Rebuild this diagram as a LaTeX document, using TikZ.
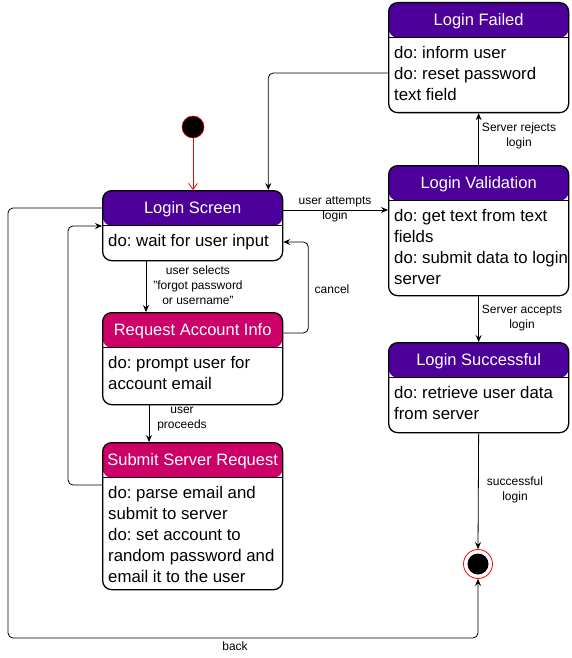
\documentclass[tikz,border=0pt]{standalone}
\usepackage{fontspec}
\setmainfont{Liberation Sans}
\usetikzlibrary{arrows.meta}
\definecolor{statepurple}{HTML}{4C0099}
\definecolor{statepink}{HTML}{CC0066}
\frenchspacing
\tikzset{
	state/.style={draw, line width=1.3pt, rounded corners=9pt, anchor=north west, inner sep=0, minimum width=180pt,
		path picture={\fill[#1] (path picture bounding box.north west) rectangle ([yshift=-35pt]path picture bounding box.north east);
			\draw[line width=1.3pt] ([yshift=-35pt]path picture bounding box.north west)--([yshift=-35pt]path picture bounding box.north east);}},
	title/.style={text=white, inner sep=0, font=\fontsize{16.5}{19}\selectfont},
	body/.style={anchor=north west, inner sep=0, align=left, font=\fontsize{16.8}{21}\selectfont},
	lbl/.style={align=center, inner sep=0, font=\fontsize{12}{15}\selectfont},
	trans/.style={->, line width=.8pt, rounded corners=5pt}
}
\begin{document}
\begin{tikzpicture}[>={Stealth[length=7pt,width=6pt,inset=2.5pt]}, line join=round, x=1pt, y=-1pt]
	\useasboundingbox (0,0) rectangle (571,658);
	% states
	\node[state=statepurple, minimum height=110pt] (failed) at (388,2) {};
	\node[title] (failed-t) at ([yshift=-19pt]failed.north) {Login Failed};
	\node[body] (failed-b) at ([xshift=6pt,yshift=-44.5pt]failed.north west) {do: inform user\\do: reset password\\text field};
	\node[state=statepurple, minimum height=130pt] (valid) at (388,165) {};
	\node[title] (valid-t) at ([yshift=-19pt]valid.north) {Login Validation};
	\node[body] (valid-b) at ([xshift=6pt,yshift=-44.5pt]valid.north west) {do: get text from text\\fields\\do: submit data to login\\server};
	\node[state=statepurple, minimum height=90pt] (succ) at (388,342) {};
	\node[title] (succ-t) at ([yshift=-19pt]succ.north) {Login Successful};
	\node[body] (succ-b) at ([xshift=6pt,yshift=-44.5pt]succ.north west) {do: retrieve user data\\from server};
	\node[state=statepurple, minimum height=70pt] (screen) at (102,190) {};
	\node[title] (screen-t) at ([yshift=-19pt]screen.north) {Login Screen};
	\node[body] (screen-b) at ([xshift=6pt,yshift=-44.5pt]screen.north west) {do: wait for user input};
	\node[state=statepink, minimum height=92pt] (info) at (102,312) {};
	\node[title] (info-t) at ([yshift=-19pt]info.north) {Request Account Info};
	\node[body] (info-b) at ([xshift=6pt,yshift=-44.5pt]info.north west) {do: prompt user for\\account email};
	\node[state=statepink, minimum height=147pt] (submit) at (102,442) {};
	\node[title] (submit-t) at ([yshift=-19pt]submit.north) {Submit Server Request};
	\node[body] (submit-b) at ([xshift=6pt,yshift=-44.5pt]submit.north west) {do: parse email and\\submit to server\\do: set account to\\random password and\\email it to the user};
	% start and end
	\node[circle, fill=black, draw=red, line width=.6pt, minimum size=22pt, inner sep=0] (start) at (193,127) {};
	\node[circle, draw=red, line width=.8pt, minimum size=29pt, inner sep=0] (stop) at (478,564) {};
	\node[circle, fill=black, minimum size=21pt, inner sep=0] (stop-in) at (stop) {};
	% transitions
	\draw[red, line width=.8pt, -{Straight Barb[length=6pt,width=9pt]}] (start) -- (start |- screen.north);
	\draw[trans] ([yshift=-71pt]failed.north west) -| ([xshift=-15pt]screen.north east);
	\draw[trans] ([yshift=-20pt]screen.north east) -- ([yshift=-45pt]valid.north west);
	\draw[trans] (valid.north) -- (failed.south);
	\draw[trans] (valid.south) -- (succ.south |- succ.north);
	\draw[trans] (succ.south) -- (stop.north);
	\draw[trans] ([xshift=44pt]screen.south west) -- ([xshift=44pt]info.north west);
	\draw[trans] ([yshift=-21pt]info.north east) -- ++(25,0) |- ([yshift=-52pt]screen.north east);
	\draw[trans] ([xshift=47pt]info.south west) -- ([xshift=47pt]submit.north west);
	\draw[trans] ([yshift=-43pt]submit.north west) -- ++(-34,0) |- ([yshift=-36pt]screen.north west);
	\draw[trans] ([yshift=-18pt]screen.north west) -- ++(-94,0) -- ++(0,430) -| (stop.south);
	% labels
	\node[lbl] (l-attempt) at (335,209) {user attempts\\login};
	\node[lbl] (l-reject) at (519,136) {Server rejects\\login};
	\node[lbl] (l-accept) at (522,318) {Server accepts\\login};
	\node[lbl] (l-success) at (515,490) {successful\\login};
	\node[lbl] (l-forgot) at (198,285) {user selects\\"forgot password\\or username"};
	\node[lbl] (l-cancel) at (332,289) {cancel};
	\node[lbl] (l-proceed) at (182,419) {user\\proceeds};
	\node[lbl] (l-back) at (235,646) {back};
\end{tikzpicture}
\end{document}
